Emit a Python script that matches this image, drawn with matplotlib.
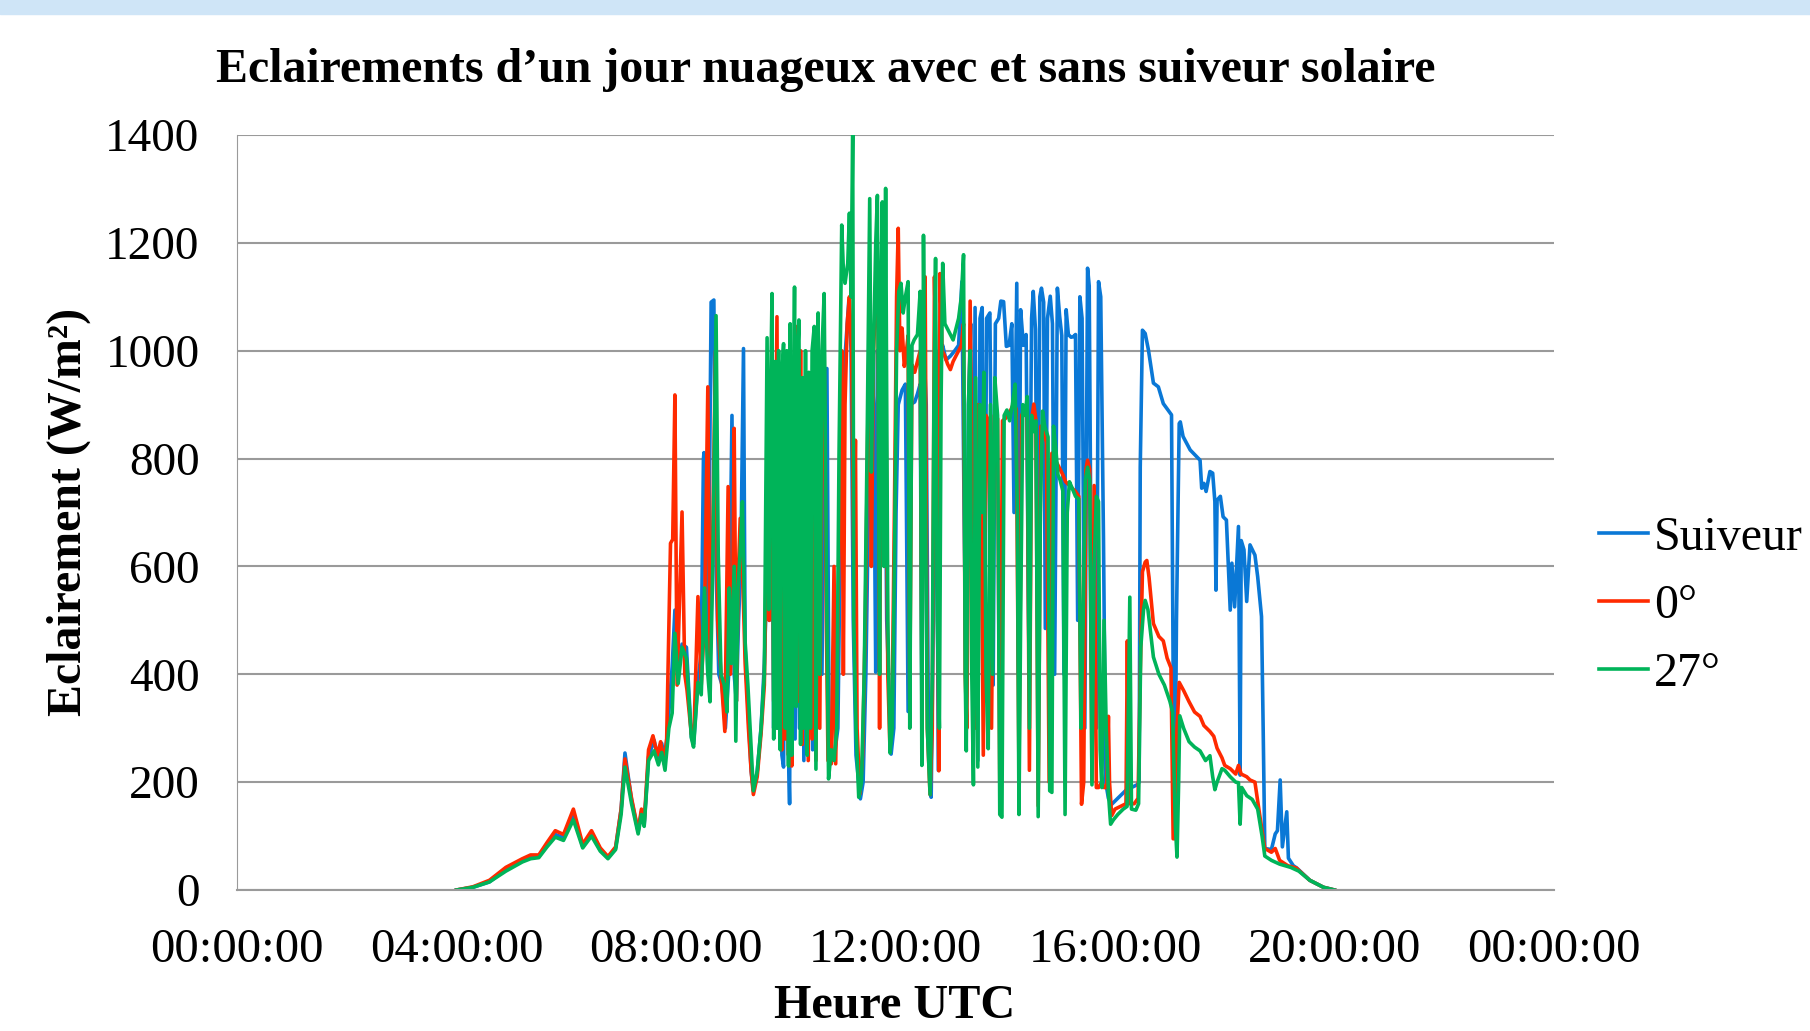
import matplotlib
matplotlib.use("Agg")
import matplotlib.pyplot as plt
from matplotlib.patches import Rectangle

# ── données (heure UTC décimale, éclairement W/m²) ──────────────────
t_suiveur = [
    4.00, 4.30, 4.60, 4.90, 5.20, 5.35, 5.50, 5.65, 5.80, 5.95, 6.13, 6.30, 6.46, 6.62, 6.76, 6.90,
    7.00, 7.07, 7.19, 7.31, 7.37, 7.42, 7.50, 7.60, 7.68, 7.74, 7.80, 7.87, 7.93, 7.98, 8.04, 8.11,
    8.19, 8.28, 8.32, 8.40, 8.46, 8.50, 8.51, 8.58, 8.64, 8.69, 8.73, 8.78, 8.84, 8.90, 8.96, 9.02,
    9.06, 9.10, 9.14, 9.18, 9.23, 9.26, 9.32, 9.37, 9.41, 9.48, 9.55, 9.61, 9.66, 9.70, 9.75, 9.78,
    9.82, 9.85, 9.90, 9.93, 9.96, 10.00, 10.04, 10.07, 10.10, 10.14, 10.17, 10.21, 10.25, 10.29,
    10.33, 10.37, 10.41, 10.45, 10.49, 10.53, 10.57, 10.62, 10.66, 10.71, 10.75, 10.79, 10.84,
    10.90, 10.95, 11.00, 11.05, 11.08, 11.15, 11.19, 11.23, 11.28, 11.36, 11.41, 11.46, 11.52,
    11.56, 11.60, 11.64, 11.67, 11.72, 11.76, 11.80, 11.84, 11.92, 11.97, 12.01, 12.05, 12.12,
    12.18, 12.23, 12.26, 12.30, 12.35, 12.40, 12.45, 12.48, 12.52, 12.56, 12.60, 12.65, 12.70,
    12.74, 12.78, 12.82, 12.86, 12.92, 13.00, 13.08, 13.15, 13.21, 13.25, 13.29, 13.33, 13.37,
    13.41, 13.45, 13.50, 13.54, 13.58, 13.62, 13.66, 13.72, 13.78, 13.82, 13.88, 13.92, 13.97,
    14.02, 14.07, 14.12, 14.16, 14.21, 14.24, 14.28, 14.33, 14.38, 14.43, 14.48, 14.51, 14.55,
    14.59, 14.63, 14.66, 14.70, 14.73, 14.77, 14.82, 14.86, 14.90, 14.95, 14.99, 15.03, 15.07,
    15.11, 15.15, 15.20, 15.24, 15.28, 15.32, 15.36, 15.40, 15.45, 15.50, 15.53, 15.57, 15.62,
    15.66, 15.70, 15.74, 15.79, 15.83, 15.88, 15.94, 16.00, 16.10, 16.20, 16.30, 16.40, 16.44,
    16.46, 16.50, 16.55, 16.61, 16.70, 16.79, 16.88, 17.03, 17.06, 17.09, 17.12, 17.17, 17.19,
    17.24, 17.37, 17.55, 17.58, 17.62, 17.66, 17.73, 17.78, 17.82, 17.84, 17.86, 17.92, 17.97,
    18.03, 18.10, 18.13, 18.18, 18.25, 18.28, 18.30, 18.35, 18.40, 18.46, 18.55, 18.60, 18.67,
    18.70, 18.73, 18.85, 18.92, 18.96, 19.01, 19.05, 19.10, 19.13, 19.16, 19.25, 19.31, 19.55,
    19.80, 20.00]
v_suiveur = [
    0, 5, 15, 38, 55, 60, 62, 82, 103, 97, 142, 80, 105, 74, 60, 78,
    150, 254, 167, 108, 145, 120, 247, 278, 241, 272, 238, 330, 414, 519, 400, 456,
    450, 284, 270, 389, 440, 799, 811, 400, 1090, 1094, 600, 400, 380, 300, 400, 880,
    400, 350, 500, 600, 1004, 448, 320, 220, 185, 220, 300, 420, 600, 500, 800, 300,
    950, 300, 900, 250, 228, 900, 300, 160, 900, 950, 280, 900, 300, 950,
    240, 900, 300, 950, 260, 900, 300, 950, 400, 965, 967, 300, 240,
    260, 300, 700, 900, 989, 1094, 1000, 500, 250, 169, 200, 400, 800,
    1000, 900, 404, 1000, 950, 1100, 1000, 500, 252, 300, 700, 900, 927,
    938, 331, 900, 902, 905, 920, 938, 350, 1000, 900, 300, 172, 600,
    1000, 222, 1000, 1010, 983, 990, 1000, 1010, 1128, 700, 358, 900, 1050,
    400, 1080, 240, 1060, 1080, 350, 1060, 1070, 380, 1050, 1060, 1092, 1091,
    1008, 1010, 1050, 700, 1125, 400, 1076, 1010, 1030, 450, 1060, 1110, 1040,
    500, 1100, 1116, 1090, 485, 1060, 1101, 1050, 400, 1116, 1065, 1028, 400,
    1076, 1030, 1025, 1026, 1030, 500, 1100, 1060, 300, 1153, 1120, 500, 400,
    300, 1128, 1100, 652, 200, 170, 159, 165, 175, 185, 190, 195, 200,
    784, 1038, 1032, 1001, 940, 933, 902, 881, 400, 113, 500, 865, 868,
    841, 816, 797, 745, 754, 739, 776, 773, 720, 556, 723, 730, 692,
    686, 519, 606, 525, 674, 213, 648, 631, 535, 640, 621, 581, 507,
    300, 77, 75, 104, 110, 204, 80, 120, 145, 59, 45, 41, 18,
    5, 0]

t_0deg = [
    4.00, 4.30, 4.60, 4.90, 5.20, 5.35, 5.50, 5.65, 5.80, 5.95, 6.13, 6.30, 6.46, 6.62, 6.76, 6.90,
    7.00, 7.07, 7.19, 7.31, 7.37, 7.42, 7.50, 7.58, 7.66, 7.72, 7.78, 7.83, 7.90, 7.94, 7.98, 8.02,
    8.06, 8.11, 8.16, 8.20, 8.28, 8.33, 8.40, 8.46, 8.52, 8.58, 8.62, 8.66, 8.72, 8.76, 8.82, 8.89,
    8.95, 8.99, 9.03, 9.06, 9.10, 9.14, 9.17, 9.21, 9.26, 9.32, 9.37, 9.41, 9.48, 9.55, 9.61, 9.66,
    9.70, 9.75, 9.78, 9.84, 9.87, 9.90, 9.93, 9.96, 9.99, 10.02, 10.05, 10.08, 10.11, 10.14, 10.18,
    10.21, 10.24, 10.27, 10.30, 10.33, 10.36, 10.38, 10.41, 10.45, 10.48, 10.52, 10.55, 10.59,
    10.62, 10.66, 10.70, 10.74, 10.77, 10.83, 10.88, 10.91, 10.95, 10.98, 11.02, 11.05, 11.08,
    11.12, 11.16, 11.20, 11.24, 11.27, 11.30, 11.35, 11.40, 11.45, 11.50, 11.53, 11.56, 11.60,
    11.64, 11.68, 11.71, 11.74, 11.78, 11.82, 11.86, 11.90, 11.94, 11.98, 12.02, 12.05, 12.08,
    12.12, 12.16, 12.20, 12.23, 12.26, 12.30, 12.35, 12.40, 12.45, 12.48, 12.51, 12.54, 12.58,
    12.63, 12.67, 12.71, 12.75, 12.79, 12.81, 12.85, 12.90, 12.95, 13.00, 13.05, 13.10, 13.15,
    13.20, 13.24, 13.27, 13.30, 13.36, 13.40, 13.45, 13.50, 13.55, 13.60, 13.65, 13.70, 13.75,
    13.80, 13.86, 13.90, 13.95, 14.00, 14.05, 14.10, 14.15, 14.20, 14.25, 14.30, 14.35, 14.40,
    14.44, 14.48, 14.52, 14.56, 14.60, 14.65, 14.70, 14.75, 14.80, 14.85, 14.90, 14.98, 15.05,
    15.10, 15.17, 15.22, 15.28, 15.34, 15.39, 15.43, 15.47, 15.50, 15.54, 15.58, 15.62, 15.66,
    15.70, 15.76, 15.80, 15.85, 15.88, 15.90, 15.94, 16.00, 16.10, 16.20, 16.225, 16.25, 16.35,
    16.42, 16.46, 16.50, 16.55, 16.58, 16.62, 16.70, 16.80, 16.88, 16.95, 17.02, 17.06, 17.09,
    17.13, 17.17, 17.25, 17.35, 17.45, 17.55, 17.62, 17.73, 17.80, 17.86, 17.95, 18.00, 18.10,
    18.20, 18.25, 18.30, 18.40, 18.46, 18.55, 18.65, 18.73, 18.85, 18.92, 19.00, 19.15, 19.30,
    19.55, 19.80, 20.00]
v_0deg = [
    0, 6, 18, 42, 58, 65, 65, 88, 110, 103, 150, 85, 110, 78, 62, 80,
    150, 243, 170, 110, 150, 125, 260, 286, 250, 275, 235, 280, 643, 650, 918, 380,
    520, 701, 400, 371, 289, 300, 544, 380, 500, 933, 420, 600, 1000, 500, 400, 294,
    748, 400, 500, 856, 350, 600, 689, 600, 420, 300, 220, 177, 210, 290, 380, 700,
    500, 900, 350, 1063, 300, 900, 260, 950, 280, 900, 250, 980, 230, 850, 900,
    1045, 350, 1000, 270, 950, 300, 958, 240, 900, 280, 950, 240, 909,
    300, 950, 1000, 500, 240, 234, 600, 234, 500, 700, 1000, 400, 900,
    1050, 1100, 1000, 602, 834, 300, 178, 250, 500, 900, 1100, 600, 1000,
    1100, 1150, 300, 1153, 700, 1000, 400, 260, 350, 700, 1100, 1227, 1000,
    1042, 971, 1000, 1028, 350, 974, 960, 980, 1000, 400, 1100, 1137, 300,
    177, 300, 1137, 900, 221, 1143, 1000, 990, 975, 965, 980, 990, 1000,
    1010, 1050, 400, 300, 1092, 700, 300, 900, 880, 250, 880, 870, 300,
    880, 874, 200, 870, 874, 880, 890, 901, 892, 213, 880, 892, 880,
    222, 870, 901, 870, 156, 860, 852, 830, 200, 810, 800, 784, 770,
    757, 750, 745, 739, 730, 159, 200, 780, 797, 780, 200, 750, 190,
    190, 200, 190, 190, 322, 200, 138, 150, 155, 160, 462, 160, 160,
    170, 400, 590, 608, 611, 580, 494, 470, 462, 430, 412, 95, 95,
    300, 385, 370, 349, 330, 322, 305, 294, 285, 263, 245, 231, 225,
    215, 231, 215, 210, 204, 200, 130, 77, 70, 77, 55, 45, 41,
    18, 5, 0]

t_27deg = [
    4.00, 4.30, 4.60, 4.90, 5.20, 5.35, 5.50, 5.65, 5.80, 5.95, 6.13, 6.30, 6.46, 6.62, 6.76, 6.90,
    7.00, 7.07, 7.19, 7.31, 7.37, 7.42, 7.50, 7.60, 7.68, 7.74, 7.80, 7.87, 7.93, 7.98, 8.04, 8.11,
    8.19, 8.28, 8.32, 8.40, 8.46, 8.52, 8.58, 8.62, 8.67, 8.73, 8.77, 8.82, 8.88, 8.93, 8.97, 9.01,
    9.06, 9.09, 9.13, 9.17, 9.21, 9.26, 9.31, 9.37, 9.41, 9.48, 9.55, 9.61, 9.66, 9.69, 9.72, 9.75,
    9.78, 9.81, 9.84, 9.87, 9.90, 9.93, 9.96, 9.99, 10.02, 10.05, 10.08, 10.11, 10.14, 10.16,
    10.19, 10.22, 10.24, 10.27, 10.30, 10.33, 10.36, 10.39, 10.42, 10.45, 10.48, 10.52, 10.55,
    10.59, 10.62, 10.66, 10.70, 10.74, 10.78, 10.83, 10.88, 10.93, 10.97, 11.02, 11.05, 11.08,
    11.13, 11.16, 11.19, 11.22, 11.24, 11.28, 11.33, 11.38, 11.43, 11.48, 11.53, 11.56, 11.60,
    11.64, 11.67, 11.71, 11.74, 11.76, 11.79, 11.82, 11.86, 11.90, 11.94, 11.98, 12.02, 12.06,
    12.10, 12.14, 12.18, 12.23, 12.26, 12.30, 12.34, 12.40, 12.45, 12.48, 12.51, 12.54, 12.58,
    12.63, 12.67, 12.70, 12.73, 12.76, 12.80, 12.83, 12.86, 12.90, 12.95, 13.00, 13.05, 13.10,
    13.15, 13.20, 13.24, 13.27, 13.29, 13.33, 13.36, 13.39, 13.42, 13.46, 13.50, 13.54, 13.58,
    13.61, 13.65, 13.69, 13.73, 13.77, 13.81, 13.86, 13.90, 13.94, 13.98, 14.03, 14.08, 14.13,
    14.18, 14.22, 14.25, 14.28, 14.32, 14.36, 14.40, 14.44, 14.48, 14.52, 14.56, 14.60, 14.64,
    14.68, 14.72, 14.78, 14.81, 14.85, 14.88, 14.92, 14.96, 15.00, 15.05, 15.09, 15.13, 15.17,
    15.22, 15.28, 15.34, 15.38, 15.42, 15.46, 15.50, 15.54, 15.58, 15.62, 15.66, 15.70, 15.73,
    15.76, 15.80, 15.84, 15.88, 15.92, 15.97, 16.05, 16.15, 16.22, 16.27, 16.30, 16.38, 16.43,
    16.47, 16.52, 16.55, 16.60, 16.70, 16.80, 16.90, 17.00, 17.05, 17.10, 17.13, 17.16, 17.18,
    17.25, 17.35, 17.45, 17.55, 17.65, 17.73, 17.78, 17.82, 17.86, 17.95, 18.00, 18.10, 18.20,
    18.25, 18.28, 18.31, 18.40, 18.50, 18.60, 18.68, 18.73, 18.85, 19.00, 19.20, 19.35, 19.55,
    19.80, 20.00]
v_27deg = [
    0, 5, 15, 35, 52, 58, 60, 80, 98, 92, 130, 78, 100, 72, 58, 75,
    140, 228, 160, 104, 140, 118, 240, 258, 232, 255, 222, 300, 328, 476, 383, 450,
    430, 282, 265, 385, 362, 560, 400, 349, 600, 1065, 620, 400, 380, 330, 560, 420,
    600, 276, 560, 630, 720, 460, 380, 260, 184, 220, 300, 400, 1024, 520, 900, 1106,
    280, 980, 300, 1000, 260, 950, 1013, 300, 1000, 230, 1050, 250, 900, 1118,
    340, 1000, 1057, 270, 950, 300, 1000, 250, 960, 300, 1000, 1045, 224,
    1070, 400, 1000, 1106, 600, 206, 260, 240, 300, 800, 1233, 1150, 1125,
    1162, 1255, 1100, 1400, 500, 300, 172, 200, 400, 800, 1282, 775, 1000,
    1200, 1288, 400, 1156, 1276, 600, 1301, 500, 254, 300, 600, 1000, 1110,
    1125, 1070, 1100, 1128, 300, 1010, 1020, 1030, 1110, 231, 1214, 800, 300,
    177, 400, 900, 1171, 500, 300, 900, 1162, 1050, 1040, 1030, 1020, 1040,
    1060, 1100, 1178, 400, 258, 900, 1000, 400, 195, 950, 228, 900, 700,
    960, 400, 262, 900, 400, 950, 880, 140, 135, 880, 890, 870, 900,
    938, 700, 140, 500, 900, 880, 915, 300, 880, 850, 870, 136, 700,
    888, 860, 840, 184, 181, 860, 820, 770, 760, 740, 140, 700, 757,
    745, 730, 725, 300, 500, 760, 784, 760, 195, 600, 730, 720, 260,
    190, 500, 300, 180, 122, 130, 140, 150, 155, 543, 150, 148, 160,
    450, 520, 537, 520, 432, 400, 380, 350, 330, 120, 61, 200, 323,
    300, 275, 265, 258, 240, 249, 210, 186, 200, 225, 222, 210, 200,
    199, 122, 190, 175, 168, 150, 100, 63, 55, 48, 42, 35, 18,
    5, 0]

series = [("Suiveur", t_suiveur, v_suiveur, "#0A78D6"),
          ("0°", t_0deg, v_0deg, "#FF2A00"),
          ("27°", t_27deg, v_27deg, "#00B459")]

x_ticks = [0, 4, 8, 12, 16, 20, 24]
x_labels = ["00:00:00", "04:00:00", "08:00:00", "12:00:00", "16:00:00", "20:00:00", "00:00:00"]
y_ticks = [0, 200, 400, 600, 800, 1000, 1200, 1400]

SERIF = ["Liberation Serif", "DejaVu Serif"]
plt.rcParams["font.family"] = SERIF

fig = plt.figure(figsize=(18.10, 10.31), dpi=100)
# bandeau bleu clair en haut
fig.patches.append(Rectangle((0, 1 - 14 / 1031), 1, 14 / 1031, transform=fig.transFigure,
                             color="#CFE5F7", zorder=0))
ax = fig.add_axes([237 / 1810, 141 / 1031, (1554 - 237) / 1810, (890 - 135) / 1031])

for name, t, v, c in series:
    ax.plot(t, v, color=c, lw=2.6, label=name, solid_joinstyle="round")

ax.set_xlim(0, 24)
ax.set_ylim(0, 1400)
ax.set_xticks(x_ticks, x_labels, fontsize=35)
ax.set_yticks(y_ticks, [str(y) for y in y_ticks], fontsize=34)
ax.tick_params(axis="both", length=0)
ax.tick_params(axis="y", pad=27)
ax.tick_params(axis="x", pad=27)
ax.grid(axis="y", color="#9A9A9A", lw=1.5)
ax.set_axisbelow(True)
for s in ["top", "right"]:
    ax.spines[s].set_visible(False)
ax.spines["bottom"].set_color("#9A9A9A")
ax.spines["bottom"].set_linewidth(1.5)
ax.spines["left"].set_color("#9A9A9A")
ax.spines["left"].set_linewidth(0.8)

fig.text(826 / 1810, 1 - 70 / 1031, "Eclairements d’un jour nuageux avec et sans suiveur solaire",
         fontsize=34.5, fontweight="bold", ha="center", va="center")
fig.text(69 / 1810, 1 - 512 / 1031, "Eclairement (W/m²)", fontsize=34.5, fontweight="bold",
         rotation=90, ha="center", va="center")
fig.text(895 / 1810, 3 / 1031, "Heure UTC", fontsize=34.7, fontweight="bold",
         ha="center", va="bottom")

fig.legend(loc="center left", bbox_to_anchor=(1599 / 1810, 1 - 606 / 1031), frameon=False,
           fontsize=34.5, handlelength=1.02, handletextpad=0.12, labelspacing=0.5,
           borderaxespad=0, borderpad=0)

fig.savefig("out.png", dpi=100)
